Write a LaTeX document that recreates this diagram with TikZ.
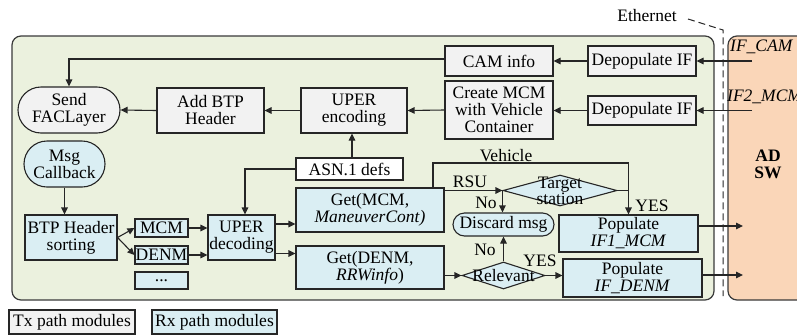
\documentclass[tikz,border=0pt]{standalone}
\usepackage{fontspec}
\setmainfont{Liberation Serif}
\usetikzlibrary{shapes.misc,shapes.geometric,arrows.meta,calc}
\definecolor{linec}{HTML}{262626}
\definecolor{panelgreen}{HTML}{EBF1DE}
\definecolor{panelline}{HTML}{3A3A3A}
\definecolor{adorange}{HTML}{FAD6B8}
\definecolor{txgray}{HTML}{F2F2F2}
\definecolor{rxblue}{HTML}{DAEEF3}
\begin{document}
\begin{tikzpicture}[x=1pt,y=-1pt,
  font=\fontsize{17.5}{17}\selectfont,
  box/.style={draw=linec,line width=1.1pt,inner sep=0pt,align=center},
  txbox/.style={box,fill=txgray},
  rxbox/.style={box,fill=rxblue},
  wbox/.style={box,fill=white},
  stad/.style={rounded rectangle},
  dec/.style={draw=linec,line width=1.1pt,diamond,fill=rxblue,inner sep=0pt},
  arr/.style={draw=linec,line width=1.1pt,-{Triangle[length=7pt,width=6.5pt]}},
  conn/.style={draw=linec,line width=1.1pt},
  lbl/.style={inner sep=0pt,align=center}
]
\useasboundingbox (0,0) rectangle (797,335);
\fill[white] (0,0) rectangle (797,335);
% panels
\draw[fill=panelgreen,draw=panelline,line width=1.2pt,rounded corners=9pt] (12,36) rectangle (714,300);
\draw[fill=adorange,draw=panelline,line width=1.2pt,rounded corners=9pt] (728,36) rectangle (830,300);
% ethernet
\node[lbl] (eth) at (647,16) {Ethernet};
\coordinate (ethA) at (688,19);
\coordinate (ethB) at (723,30);
\coordinate (ethC) at (723,296);
\draw[linec,line width=1pt,dash pattern=on 7pt off 4pt] (ethA) -- (ethB) -- (ethC);
% AD SW
\node[lbl,font=\fontsize{17.5}{17}\selectfont\bfseries] (adsw) at (768,164) {AD\\SW};
\node[lbl,anchor=west,font=\fontsize{17.5}{17}\selectfont\itshape] (ifcam) at (730,47) {IF\_CAM};
\node[lbl,anchor=west,font=\fontsize{17.5}{17}\selectfont\itshape] (ifmcm) at (727,97) {IF2\_MCM};
% Tx boxes
\node[txbox,stad,minimum width=102pt,minimum height=46pt] (send) at (69,110) {Send\\FACLayer};
\node[txbox,minimum width=107pt,minimum height=45pt] (addbtp) at (210.5,110.5) {Add BTP\\Header};
\node[txbox,minimum width=106pt,minimum height=45pt] (uperenc) at (354,110.5) {UPER\\encoding};
\node[txbox,minimum width=108pt,minimum height=58pt] (createmcm) at (499,110) {Create MCM\\with Vehicle\\Container};
\node[txbox,minimum width=108pt,minimum height=30pt] (caminfo) at (499,61) {CAM info};
\node[txbox,minimum width=108pt,minimum height=30pt] (dep1) at (642,61) {Depopulate IF};
\node[txbox,minimum width=108pt,minimum height=29pt] (dep2) at (642,110.5) {Depopulate IF};
\node[wbox,minimum width=107pt,minimum height=22pt] (asn) at (349.5,169) {ASN.1 defs};
% Rx boxes
\node[rxbox,stad,minimum width=81pt,minimum height=46pt] (msgcb) at (64.5,164) {Msg\\Callback};
\node[rxbox,minimum width=92pt,minimum height=45pt] (btpsort) at (71,237.5) {BTP Header\\sorting};
\node[rxbox,minimum width=53pt,minimum height=18pt] (mcm) at (161.5,228) {MCM};
\node[rxbox,minimum width=53pt,minimum height=18pt] (denm) at (161.5,255) {DENM};
\node[rxbox,minimum width=53pt,minimum height=17pt] (dots) at (161.5,280.5) {...};
\node[rxbox,minimum width=67pt,minimum height=45pt] (uperdec) at (241.5,237.5) {UPER\\decoding};
\node[rxbox,minimum width=148pt,minimum height=44pt] (getmcm) at (370,210) {Get(MCM,\\\textit{ManeuverCont)}};
\node[rxbox,minimum width=148pt,minimum height=43pt] (getdenm) at (370,267.5) {Get(DENM,\\\textit{RRWinfo})};
\node[dec,minimum width=114pt,minimum height=31pt] (target) at (560,190.5) {};
\node[lbl,font=\fontsize{17.5}{16}\selectfont] (targettxt) at (target.center) {Target\\station};
\node[rxbox,stad,minimum width=101pt,minimum height=23pt] (discard) at (503.5,224.5) {Discard msg};
\node[rxbox,minimum width=139pt,minimum height=37pt] (pop1) at (628.5,233.5) {Populate\\\textit{IF1\_MCM}};
\node[rxbox,minimum width=139pt,minimum height=38pt] (pop2) at (632.5,278) {Populate\\\textit{IF\_DENM}};
\node[dec,minimum width=83pt,minimum height=27pt] (relevant) at (503.5,275.5) {};
\node[lbl] (relevanttxt) at (relevant.center) {Relevant};
% legend
\node[txbox,minimum width=126pt,minimum height=24pt] (legtx) at (72,322) {Tx path modules};
\node[rxbox,minimum width=125pt,minimum height=24pt] (legrx) at (214.5,322) {Rx path modules};
% Tx connectors
\coordinate (ifcamend) at (752,61);
\coordinate (ifmcmend) at (752,110.5);
\draw[arr] (ifcamend) -- (dep1.east);
\draw[arr] (ifmcmend) -- (dep2.east);
\draw[arr] (dep1.west) -- (caminfo.east);
\draw[arr] (dep2.west) -- (createmcm.east |- dep2.west);
\draw[arr] ([yshift=2pt]caminfo.west) -| (send.north);
\draw[arr] (createmcm.west) -- (uperenc.east);
\draw[arr] (uperenc.west) -- (addbtp.east);
\draw[arr] (addbtp.west) -- (send.east);
\draw[arr] ([xshift=2.5pt]asn.north) -- ([xshift=2.5pt]asn.north |- uperenc.south);
\draw[arr] (asn.west) -| ([xshift=3.5pt]uperdec.north);
% Rx connectors
\draw[arr] (msgcb.south) -- (msgcb.south |- btpsort.north);
\draw[arr] (btpsort.east) -- (mcm.west);
\draw[arr] (btpsort.east) -- (denm.west);
\draw[arr] (mcm.east) -- (mcm.east -| uperdec.west);
\draw[arr] (denm.east) -- (denm.east -| uperdec.west);
\draw[arr] ([yshift=13.5pt]uperdec.east) -- ([yshift=13.5pt]uperdec.east -| getmcm.west);
\draw[arr] ([yshift=-16pt]uperdec.east) -- ([yshift=-16pt]uperdec.east -| getdenm.west);
\draw[arr] (target.west -| getmcm.east) -- (target.west);
\node[lbl,anchor=south] (rsu) at (470,188) {RSU};
\draw[arr] ([xshift=63pt]getmcm.north) |- (pop1.north |- 0,163) -- (pop1.north);
\node[lbl,anchor=south] (vehicle) at (506,162) {Vehicle};
\draw[conn] (target.east) -- (target.east -| pop1.north);
\node[lbl] (yes1) at (652,206) {YES};
\draw[arr] (target.west) -- (target.west |- discard.north);
\node[lbl] (no1) at (486,203) {No};
\draw[arr] (relevant.west -| getdenm.east) -- (relevant.west);
\draw[arr] (relevant.north) -- (discard.south);
\node[lbl] (no2) at (485,250) {No};
\draw[arr] (relevant.east) -- (relevant.east -| pop2.west);
\node[lbl] (yes2) at (540,261) {YES};
\coordinate (out1) at (743,226);
\coordinate (out2) at (743,275);
\draw[arr] (pop1.east |- out1) -- (out1);
\draw[arr] (pop2.east |- out2) -- (out2);
\end{tikzpicture}
\end{document}
